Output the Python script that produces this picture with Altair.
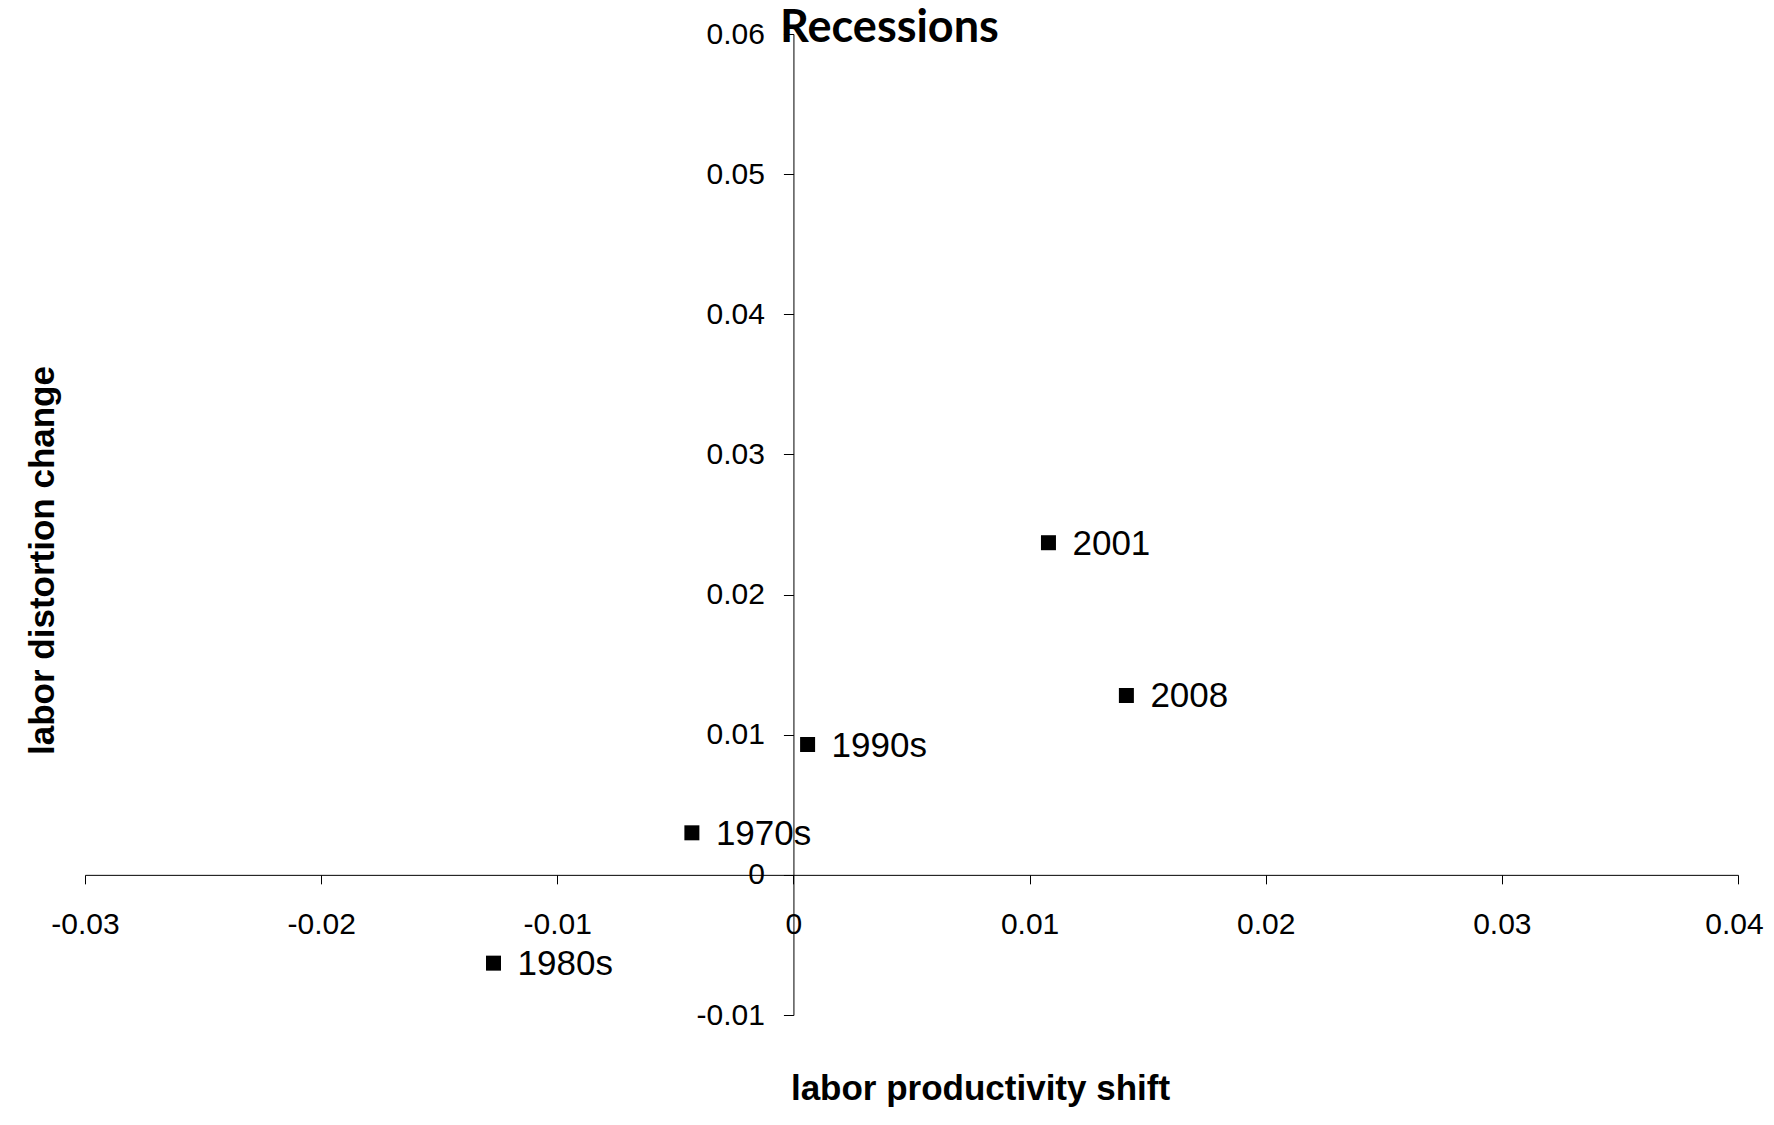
import altair as alt
import pandas as pd

labels = ["1970s", "1980s", "1990s", "2001", "2008"]
productivity_shift = [-0.0043, -0.0127, 0.0006, 0.0108, 0.0141]
distortion_change = [0.0030, -0.0063, 0.0093, 0.0237, 0.0128]

x_ticks = [-0.03, -0.02, -0.01, 0.0, 0.01, 0.02, 0.03, 0.04]
y_ticks = [-0.01, 0.0, 0.01, 0.02, 0.03, 0.04, 0.05, 0.06]

df = pd.DataFrame({"label": labels, "x": productivity_shift, "y": distortion_change})

W, H = 1653, 981
x_dom = [-0.03, 0.04]
y_dom = [-0.01, 0.06]
x_off = -W * (0 - x_dom[0]) / (x_dom[1] - x_dom[0])
y_off = -H * (0 - y_dom[0]) / (y_dom[1] - y_dom[0])

lab_expr = "replace(format(datum.value, '.2~f'), '\u2212', '-')"
FONT = "Liberation Sans"

x_enc = alt.X(
    "x:Q",
    scale=alt.Scale(domain=x_dom, nice=False, zero=False),
    axis=alt.Axis(
        values=x_ticks, labelExpr=lab_expr, grid=False, offset=y_off,
        tickSize=9, tickColor="black", domainColor="black",
        labelFont=FONT, labelFontSize=30, labelColor="black", labelPadding=26,
        labelFlush=False, labelOverlap=False,
        labelOffset={"condition": {"test": "datum.value > 0.035", "value": -4}, "value": 0},
        title="labor productivity shift", titleFont=FONT, titleFontSize=35,
        titleFontWeight="bold", titleColor="black",
        titleX=895, titleY=225, titleBaseline="alphabetic", titleAlign="center",
    ),
)
y_enc = alt.Y(
    "y:Q",
    scale=alt.Scale(domain=y_dom, nice=False, zero=False),
    axis=alt.Axis(
        values=y_ticks, labelExpr=lab_expr, grid=False, offset=x_off,
        tickSize=10, tickColor="black", domainColor="black",
        labelFont=FONT, labelFontSize=30, labelColor="black", labelPadding=19,
        labelFlush=False, labelOverlap=False,
        title="labor distortion change", titleFont=FONT, titleFontSize=35,
        titleFontWeight="bold", titleColor="black",
        titleX=-751, titleY=526, titleBaseline="middle", titleAlign="center",
        titleAngle=270,
    ),
)

base = alt.Chart(df)
pts = base.mark_square(size=225, color="black", opacity=1).encode(x=x_enc, y=y_enc)
txt = base.mark_text(align="left", baseline="middle", dx=24, dy=1, fontSize=35,
                     font=FONT, color="black").encode(x="x:Q", y="y:Q", text="label:N")

chart = (
    alt.layer(pts, txt)
    .properties(
        width=W, height=H,
        title=alt.TitleParams("Recessions", font="Lato", fontSize=45, fontWeight="bold",
                              anchor="middle", frame="group", dx=-22, offset=-68,
                              baseline="alphabetic", color="black"),
        autosize=alt.AutoSizeParams(type="none"),
        padding={"left": 77, "top": 26, "right": 28, "bottom": 94},
    )
    .configure(background="white")
    .configure_view(stroke="transparent", strokeWidth=0)
)

chart.save("out.html", embed_options={"renderer": "svg", "actions": False})
